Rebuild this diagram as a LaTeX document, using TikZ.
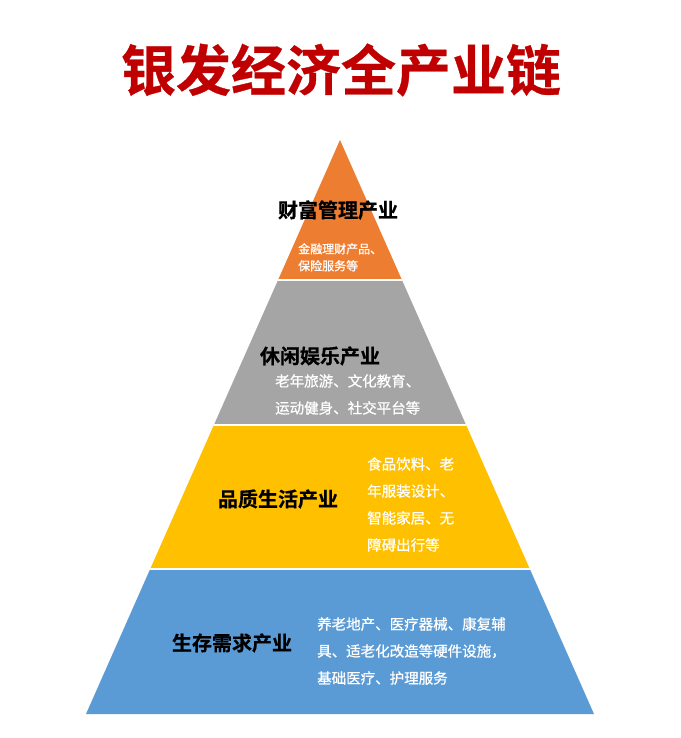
\documentclass[tikz,border=0pt]{standalone}
\usepackage{fontspec}
\setmainfont{Noto Sans CJK SC}[BoldFont={Noto Sans CJK SC Bold}]
\newfontfamily\descfont{Noto Sans CJK SC}[FakeBold=0.8]
\newfontfamily\headfont{Noto Sans CJK SC Bold}[FakeBold=0.6]
\definecolor{titlered}{HTML}{C00000}
\definecolor{bandorange}{HTML}{ED7D31}
\definecolor{bandgray}{HTML}{A5A5A5}
\definecolor{bandyellow}{HTML}{FFC000}
\definecolor{bandblue}{HTML}{5B9BD5}
\tikzset{
  head/.style={font=\fontsize{20}{24}\headfont, text=black, inner sep=0pt},
  desc/.style={font=\fontsize{14.5}{27}\descfont, text=white, align=left, inner sep=0pt},
  descsmall/.style={font=\fontsize{12}{17}\descfont, text=white, align=left, inner sep=0pt},
  sep/.style={white, line width=2pt}
}
\begin{document}
\begin{tikzpicture}[x=1pt,y=-1pt]
\useasboundingbox (0,0) rectangle (680,738);
\fill[white] (0,0) rectangle (680,738);
% title
\node[font=\fontsize{55}{60}\headfont, text=titlered, inner sep=0pt] (title) at (341,70) {银发经济全产业链};
% pyramid bands
\begin{scope}
\clip (340,140) -- (594,714) -- (86,714) -- cycle;
\fill[bandorange] (80,138) rectangle (600,280);
\fill[bandgray] (80,280) rectangle (600,425);
\fill[bandyellow] (80,425) rectangle (600,569);
\fill[bandblue] (80,569) rectangle (600,716);
\draw[sep] (80,280) -- (600,280);
\draw[sep] (80,425) -- (600,425);
\draw[sep] (80,569) -- (600,569);
\end{scope}
% level 1
\node[head] (h1) at (338,210) {财富管理产业};
\node[descsmall, anchor=north west] (d1) at (298,243) {金融理财产品、\\保险服务等};
% level 2
\node[head] (h2) at (320,356) {休闲娱乐产业};
\node[desc, anchor=north west] (d2) at (275,374) {老年旅游、文化教育、\\运动健身、社交平台等};
% level 3
\node[head] (h3) at (278,499) {品质生活产业};
\node[desc, anchor=north west] (d3) at (367,457) {食品饮料、老\\年服装设计、\\智能家居、无\\障碍出行等};
% level 4
\node[head] (h4) at (232,643) {生存需求产业};
\node[desc, anchor=north west] (d4) at (317,617) {养老地产、医疗器械、康复辅\\具、适老化改造等硬件设施，\\基础医疗、护理服务};
\end{tikzpicture}
\end{document}
